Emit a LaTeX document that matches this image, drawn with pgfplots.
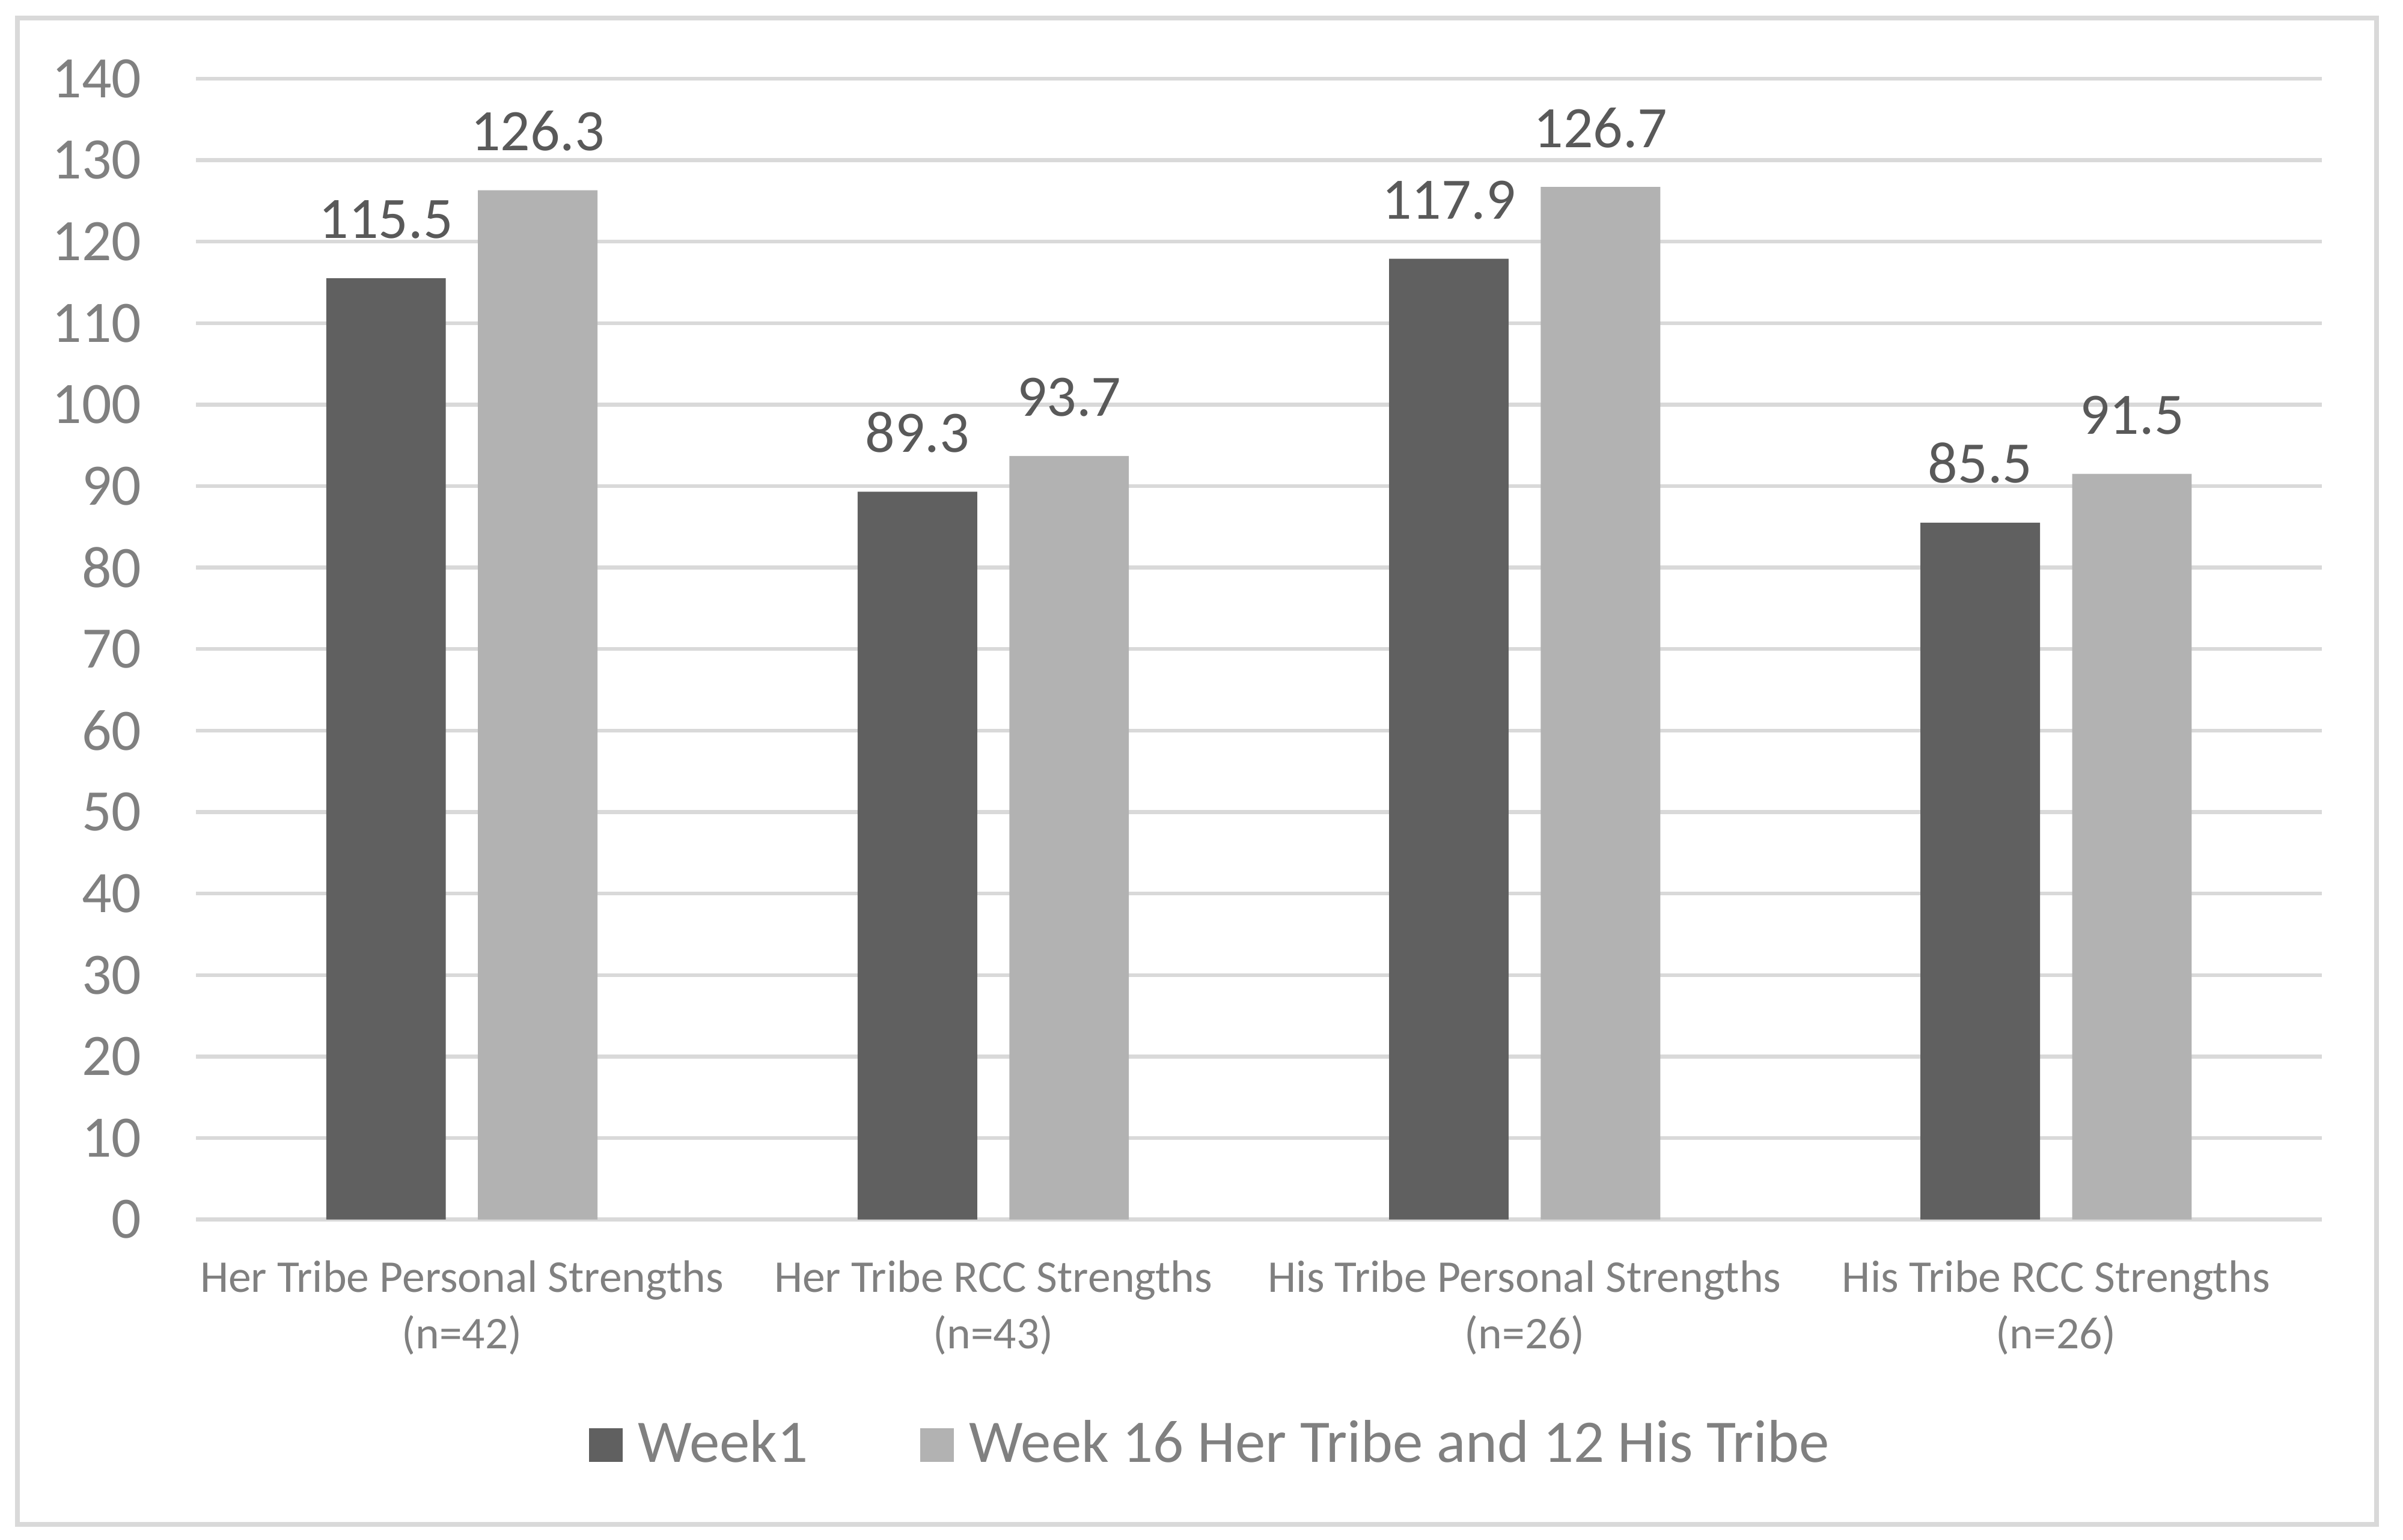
\documentclass[border=0pt]{standalone}
\usepackage{pgfplots}
\pgfplotsset{compat=1.18}
\usepackage{fontspec}
\setmainfont{Carlito}
\definecolor{darkbar}{HTML}{606060}
\definecolor{lightbar}{HTML}{B2B2B2}
\definecolor{gridc}{HTML}{D9D9D9}
\definecolor{labc}{HTML}{808080}
\definecolor{datac}{HTML}{595959}
\begin{document}
\begin{tikzpicture}
\begin{axis}[
  at={(0,0)}, anchor=south west,
  scale only axis, width=416.1pt, height=223.4pt,
  ymin=0, ymax=140, ytick={0,10,...,140},
  xmin=-0.5, xmax=3.5, xtick={0,1,2,3},
  xticklabels={{Her Tribe Personal Strengths\\(n=42)},{Her Tribe RCC Strengths\\(n=43)},{His Tribe Personal Strengths\\(n=26)},{His Tribe RCC Strengths\\(n=26)}},
  ybar=6.3pt, bar width=23.4pt,
  axis line style={draw=none},
  major tick length=0pt,
  ymajorgrids, grid style={gridc, line width=0.75pt},
  /pgf/number format/assume math mode=true,
  yticklabel style={font=\fontsize{11.5}{13}\selectfont, text=labc, inner sep=0pt, anchor=east, xshift=-10.5pt},
  xticklabel style={font=\fontsize{8.9}{11.1}\selectfont, text=labc, align=center, inner sep=0pt, anchor=north, yshift=-7.8pt},
  nodes near coords={\pgfmathprintnumber[fixed,fixed zerofill,precision=1]{\pgfplotspointmeta}},
  every node near coord/.append style={font=\fontsize{11.5}{13}\selectfont, text=datac, inner sep=0pt, anchor=south, yshift=7.5pt},
  legend columns=2,
  legend style={at={(rel axis cs:0.1843,-0.1975)}, anchor=west, draw=none, fill=none, inner sep=0pt,
    font=\fontsize{11.85}{13}\selectfont, text=labc,
    /tikz/every odd column/.append style={column sep=1pt},
    /tikz/every even column/.append style={column sep=20pt}},
  legend image code/.code={\fill[#1,draw=none] (0pt,-3.4pt) rectangle (6.6pt,3.2pt);},
]
\addplot[fill=darkbar, draw=none] coordinates {(0,115.5) (1,89.3) (2,117.9) (3,85.5)};
\addplot[fill=lightbar, draw=none] coordinates {(0,126.3) (1,93.7) (2,126.7) (3,91.5)};
\legend{Week1, Week 16 Her Tribe and 12 His Tribe}
\end{axis}
\draw[gridc, line width=0.9pt] (-34.98pt,-59.7pt) rectangle (426.84pt,235.23pt);
\pgfresetboundingbox
\path (-38.4pt,-62.7pt) rectangle (432pt,238.8pt);
\end{tikzpicture}
\end{document}
